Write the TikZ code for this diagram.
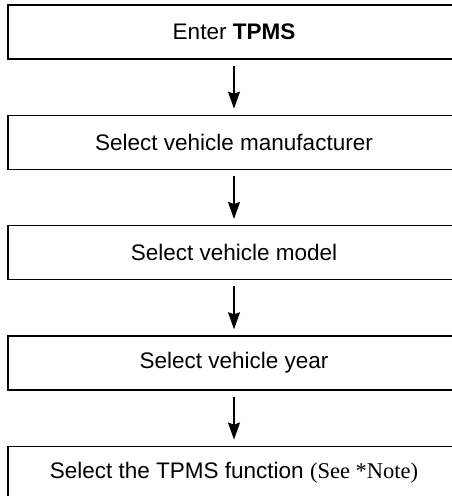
\documentclass[tikz,border=0pt]{standalone}
\usepackage{fontspec}
\setmainfont{Liberation Sans}
\newfontfamily\notefont{Liberation Serif}
\usetikzlibrary{positioning,arrows.meta}

\tikzset{
  stepbox/.style={draw, rectangle, line width=1.3pt, inner sep=0pt,
    minimum width=452pt, minimum height=54pt,
    font=\fontsize{22.5}{27}\selectfont},
  flowarrow/.style={line width=1.2pt,
    -{Stealth[length=17pt,width=12pt,inset=2pt]}, shorten <=6pt, shorten >=6pt}
}

\begin{document}
\begin{tikzpicture}[x=1pt, y=1pt, node distance=55pt]
    \useasboundingbox (0,0) rectangle (452,-496);
    \clip (0,0) rectangle (452,-496);
    % steps
    \node [stepbox] (enter) at (234,-32) {Enter \textbf{TPMS}};
    \node [stepbox, below=of enter] (maker) {Select vehicle manufacturer};
    \node [stepbox, below=of maker] (model) {Select vehicle model};
    \node [stepbox, below=of model] (year) {Select vehicle year};
    \node [stepbox, below=of year] (func) {Select the TPMS function {\notefont(See *Note)}};
    % arrows
    \draw [flowarrow] (enter) -- (maker);
    \draw [flowarrow] (maker) -- (model);
    \draw [flowarrow] (model) -- (year);
    \draw [flowarrow] (year) -- (func);
\end{tikzpicture}
\end{document}
